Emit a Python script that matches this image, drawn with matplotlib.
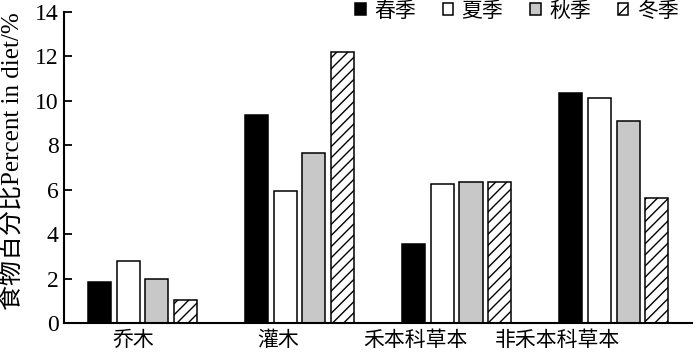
import matplotlib
matplotlib.use("Agg")
import matplotlib.pyplot as plt
import numpy as np

plt.rcParams['font.family'] = ['Liberation Serif', 'Noto Sans CJK SC']
plt.rcParams['hatch.linewidth'] = 1.0

# --- data ---
categories = ["乔木", "灌木", "禾本科草本", "非禾本科草本"]
seasons = ["春季", "夏季", "秋季", "冬季"]
spring = [1.86, 9.35, 3.56, 10.34]
summer = [2.79, 5.94, 6.26, 10.14]
autumn = [1.97, 7.64, 6.33, 9.11]
winter = [1.04, 12.19, 6.33, 5.64]

# --- style ---
colors = ["black", "white", "#c8c8c8", "white"]
hatches = [None, None, None, "///"]
label_pos = [-0.057, 0.866, 1.74, 2.64]  # category labels sit left of the group centre

fig = plt.figure(figsize=(7, 3.55), dpi=100)
ax = fig.add_axes([0.0914, 0.090, 0.8977, 0.876])

x = np.arange(len(categories))
pitch = 0.182
width = 0.147
for i, vals in enumerate([spring, summer, autumn, winter]):
    ax.bar(x + (i - 1.5) * pitch, vals, width, color=colors[i], edgecolor="black",
           linewidth=1.1, hatch=hatches[i], label=seasons[i])

ax.set_xlim(-0.5, 3.5)
ax.set_ylim(0, 14)
ax.set_yticks(range(0, 15, 2))
ax.set_xticks(label_pos)
ax.set_xticklabels(categories, fontsize=15, family=['Noto Sans CJK SC'])
ax.tick_params(axis='x', length=0, pad=4)
ax.tick_params(axis='y', direction='in', length=6, width=1.3, labelsize=17, pad=4)
ax.set_ylabel("食物百分比Percent in diet/%", fontsize=18, labelpad=2)
ax.yaxis.set_label_coords(-0.064, 0.52)

for s in ['top', 'right']:
    ax.spines[s].set_visible(False)
for s in ['left', 'bottom']:
    ax.spines[s].set_linewidth(1.5)

leg = ax.legend(loc='upper right', bbox_to_anchor=(0.978, 1.04), ncol=4, frameon=False,
                handlelength=0.5, handleheight=0.5, handletextpad=0.4,
                columnspacing=1.3, borderpad=0, borderaxespad=0,
                prop={'family': ['Noto Sans CJK SC'], 'size': 15})

fig.savefig("out.png", dpi=100)
